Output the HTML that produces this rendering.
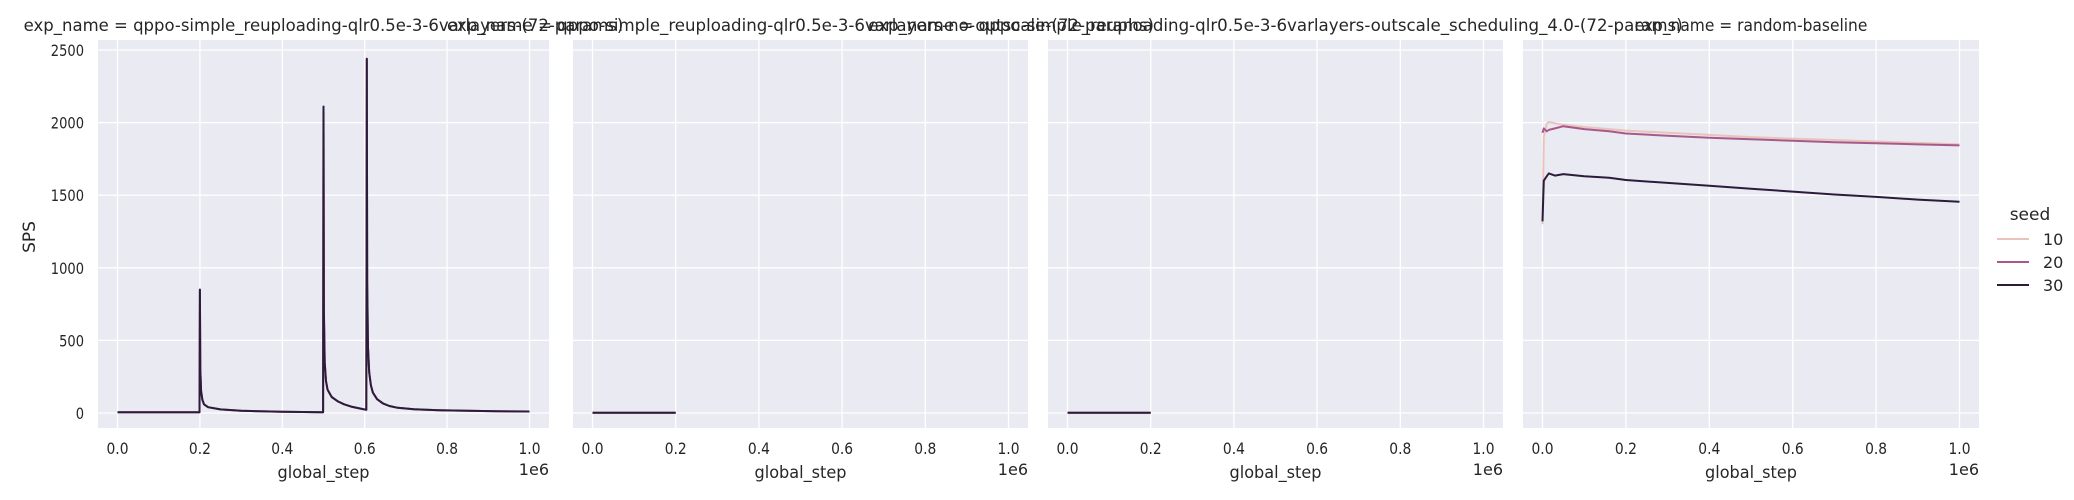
<!DOCTYPE html>
<html><head><meta charset="utf-8"><style>
html,body{margin:0;padding:0;background:#fff;}
svg{display:block;font-family:"DejaVu Sans","Liberation Sans",sans-serif;}
</style></head><body>
<svg id="chart" width="2074" height="500" viewBox="0 0 2074 500" xmlns="http://www.w3.org/2000/svg"></svg>
<script>
const panelTitles = [
 "exp_name = qppo-simple_reuploading-qlr0.5e-3-6varlayers-(72-params)",
 "exp_name = qppo-simple_reuploading-qlr0.5e-3-6varlayers-no-outscale-(72-params)",
 "exp_name = qppo-simple_reuploading-qlr0.5e-3-6varlayers-outscale_scheduling_4.0-(72-params)",
 "exp_name = random-baseline"
];
const seeds = ["10","20","30"];
const xTicks = [0,0.2,0.4,0.6,0.8,1.0];
const xTickLabels = ["0.0","0.2","0.4","0.6","0.8","1.0"];
const yTicks = [0,500,1000,1500,2000,2500];
const yTickLabels = ["0","500","1000","1500","2000","2500"];
// panel 1 (x in 1e6)
const p1X = [0,0.199,0.2,0.201,0.203,0.206,0.21,0.22,0.25,0.3,0.4,0.499,0.5,0.501,0.503,0.506,0.51,0.52,0.535,0.55,0.57,0.59,0.604,0.605,0.606,0.608,0.611,0.615,0.62,0.63,0.645,0.66,0.68,0.72,0.78,0.85,0.92,1.0];
const p1Y = [5,5,850,300,150,90,60,40,25,15,8,5,2110,700,350,220,160,110,80,60,42,30,22,2440,900,450,280,190,140,95,65,48,36,26,19,15,12,10];
// panels 2,3
const p2X = [0,0.2];
const p2Y = [2,2];
const p3X = [0,0.2];
const p3Y = [2,2];
// panel 4
const p4X = [0,0.003,0.01,0.015,0.03,0.05,0.1,0.16,0.2,0.3,0.4,0.5,0.6,0.7,0.8,0.9,1.0];
const p4Seed10 = [1300,1900,1990,2005,1995,1985,1970,1955,1945,1930,1915,1900,1890,1880,1870,1860,1850];
const p4Seed20 = [1930,1960,1940,1950,1960,1975,1955,1940,1925,1910,1895,1885,1875,1865,1858,1850,1843];
const p4Seed30 = [1320,1600,1630,1650,1635,1645,1630,1620,1605,1585,1565,1545,1525,1505,1488,1470,1455];

const colors = ["#ebc3bd","#a8598b","#2c1c3c"];
const panels = [
 {l:98,r:549,series:[[p1X,p1Y],[p1X,p1Y],[p1X,p1Y]]},
 {l:573,r:1028,series:[[p2X,p2Y],[p2X,p2Y],[p2X,p2Y]]},
 {l:1048,r:1503,series:[[p3X,p3Y],[p3X,p3Y],[p3X,p3Y]]},
 {l:1523,r:1979,series:[[p4X,p4Seed10],[p4X,p4Seed20],[p4X,p4Seed30]]}
];
const TOP=40,BOT=428;
const yScale=v=>413-(v/2500)*363;
const svg=document.getElementById('chart');
const NS="http://www.w3.org/2000/svg";
function mk(tag,attrs,parent){const e=document.createElementNS(NS,tag);for(const k in attrs)e.setAttribute(k,attrs[k]);(parent||svg).appendChild(e);return e;}
panels.forEach((p,pi)=>{
 const xScale=v=>p.l+19.5+v*(p.r-p.l-39);
 const g=mk('g',{});
 
 
 const bg=mk('rect',{x:p.l,y:TOP,width:p.r-p.l,height:BOT-TOP,fill:'#eaeaf2'},g);
 
 
 yTicks.forEach((t,i)=>{
  const gl=mk('line',{x1:p.l,x2:p.r,y1:yScale(t),y2:yScale(t),stroke:'#fff','stroke-width':1.3},g);
  
  
  if(pi===0){const tx=mk('text',{x:p.l-14,y:yScale(t)+6,'text-anchor':'end','font-size':16,fill:'#262626'},g);tx.textContent=yTickLabels[i];
   tx.setAttribute('textLength',yTickLabels[i].length*8.3);
   tx.setAttribute('lengthAdjust','spacingAndGlyphs');
   
   }
 });
 xTicks.forEach((t,i)=>{
  const gl=mk('line',{x1:xScale(t),x2:xScale(t),y1:TOP,y2:BOT,stroke:'#fff','stroke-width':1.3},g);
  
  
  const tx=mk('text',{x:xScale(t),y:454,'text-anchor':'middle','font-size':16,fill:'#262626'},g);tx.textContent=xTickLabels[i];
  tx.setAttribute('textLength',22);
  tx.setAttribute('lengthAdjust','spacingAndGlyphs');
  
  
 });
 p.series.forEach((s,si)=>{
  const d=s[0].map((x,k)=>(k?'L':'M')+xScale(x).toFixed(1)+','+yScale(s[1][k]).toFixed(1)).join(' ');
  const pa=mk('path',{d:d,fill:'none',stroke:colors[si],'stroke-width':2,'stroke-linejoin':'round'},g);
  
  
 });
 const xl=mk('text',{x:(p.l+p.r)/2,y:478,'text-anchor':'middle','font-size':17,fill:'#262626','textLength':92,'lengthAdjust':'spacingAndGlyphs'},g);xl.textContent='global_step';
 
 
 const ex=mk('text',{x:p.r,y:475,'text-anchor':'end','font-size':16,fill:'#262626'},g);ex.textContent='1e6';
 
 
 const ti=mk('text',{x:(p.l+p.r)/2,y:31,'text-anchor':'middle','font-size':17,fill:'#262626','textLength':panelTitles[pi].length*8.95,'lengthAdjust':'spacingAndGlyphs'},g);ti.textContent=panelTitles[pi];
 
 
});
const yl=mk('text',{x:0,y:0,'text-anchor':'middle','font-size':17,fill:'#262626',transform:'translate(35,237) rotate(-90)'});yl.textContent='SPS';


const lg=mk('g',{});


const lt=mk('text',{x:2030,y:220,'text-anchor':'middle','font-size':17,fill:'#262626'},lg);lt.textContent='seed';


seeds.forEach((s,i)=>{
 const y=239+i*23;
 const ln=mk('line',{x1:1997,x2:2029,y1:y,y2:y,stroke:colors[i],'stroke-width':2},lg);
 
 
 const tx=mk('text',{x:2043,y:y+6,'font-size':16,fill:'#262626'},lg);tx.textContent=s;
 
 
});
</script>
</body></html>
